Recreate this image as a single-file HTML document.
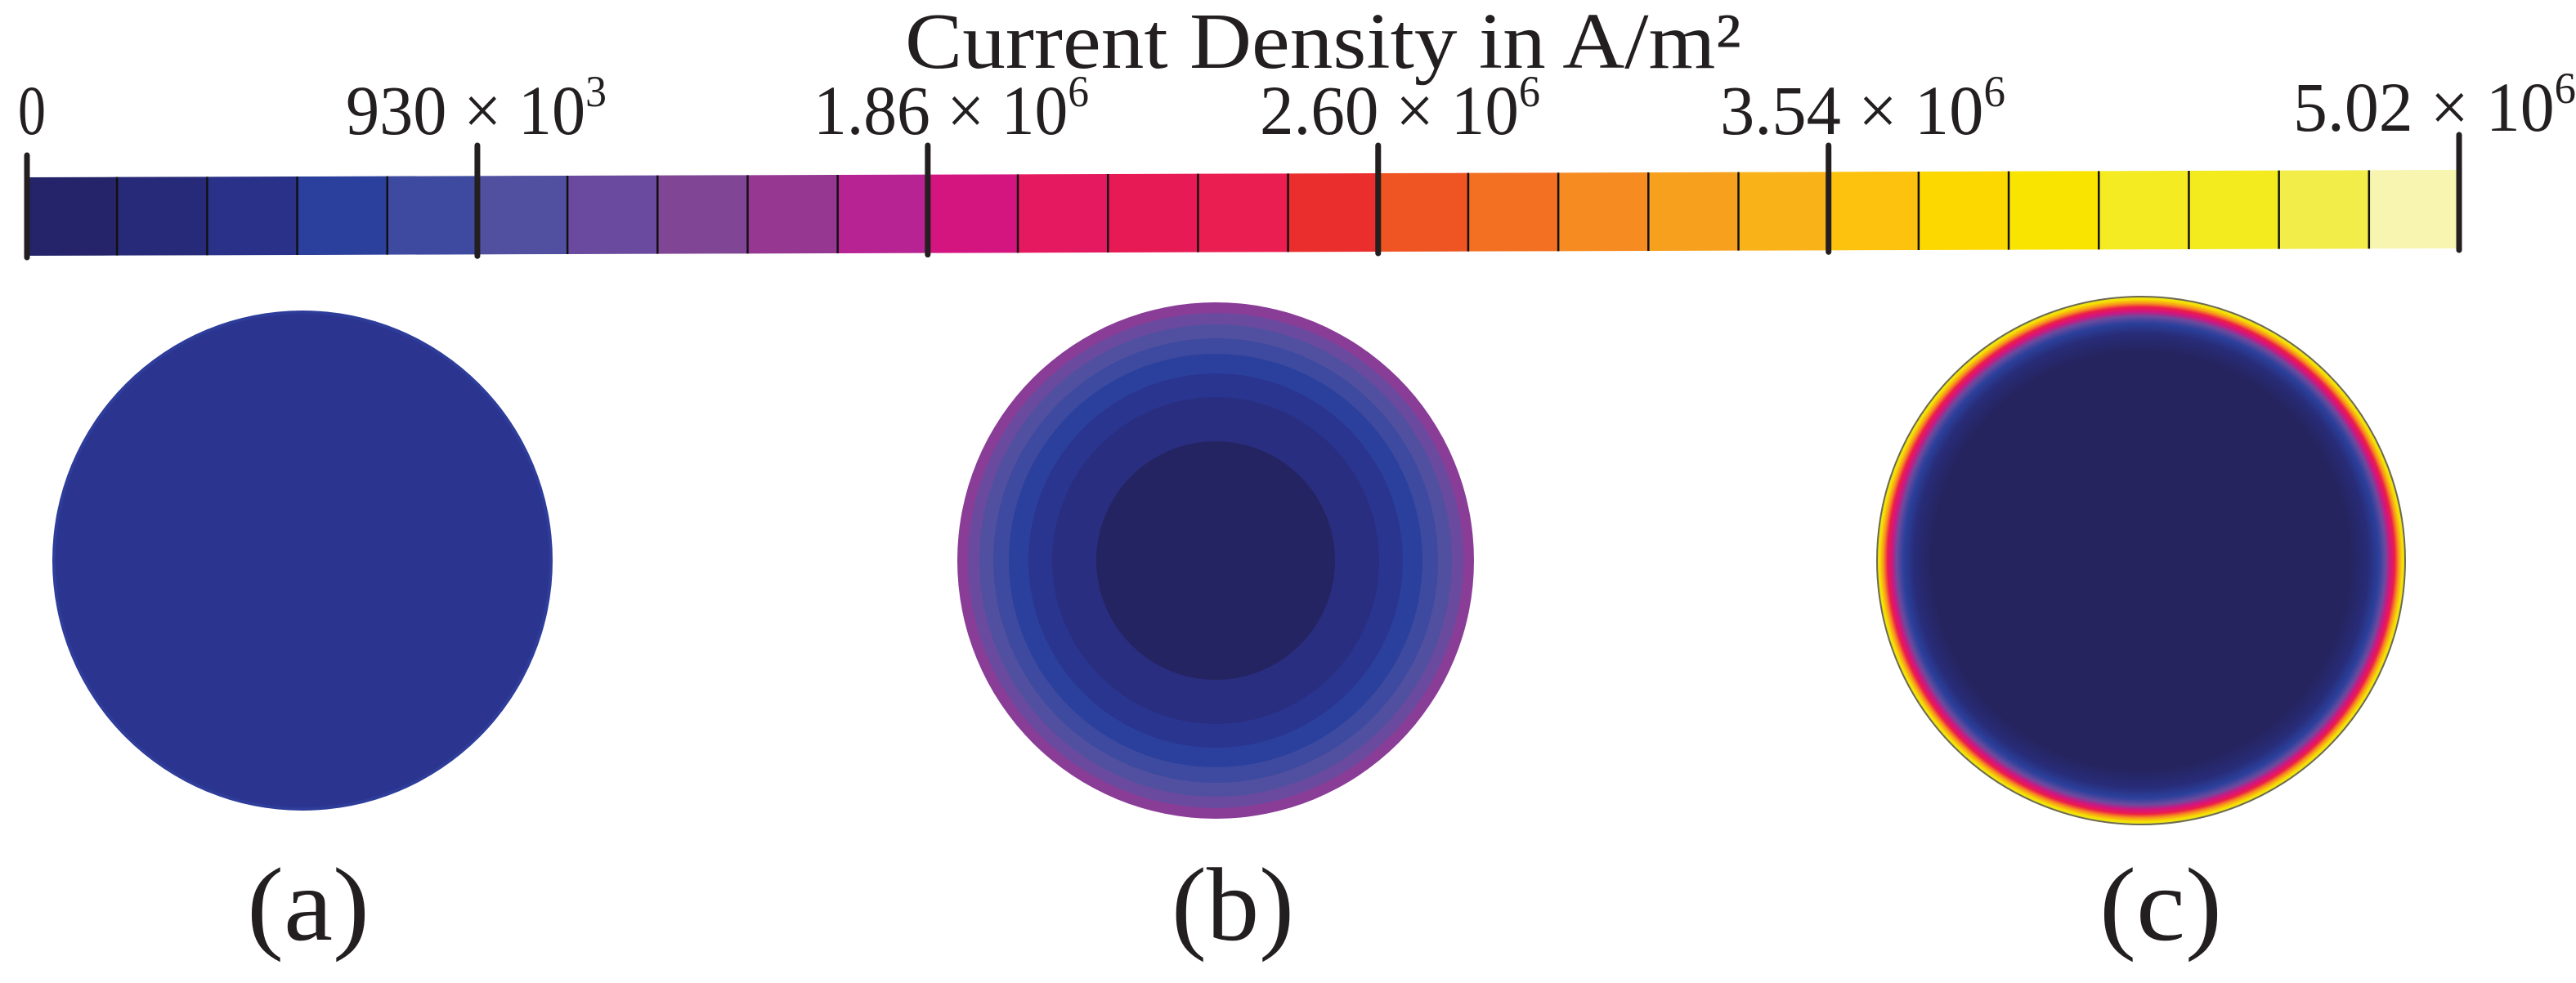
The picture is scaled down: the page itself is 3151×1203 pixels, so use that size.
<!DOCTYPE html>
<html><head><meta charset="utf-8"><style>
html,body{margin:0;padding:0;background:#fff;width:3151px;height:1203px;overflow:hidden}
svg{display:block}
text{font-family:"Liberation Serif",serif;fill:#231f20}
</style></head><body>
<svg id="fig" width="3151" height="1203" viewBox="0 0 3151 1203" xmlns="http://www.w3.org/2000/svg">
<defs>
<radialGradient id="gc" cx="0.5" cy="0.5" r="0.5">
<stop offset="0" stop-color="#25245f"/>
<stop offset="0.79" stop-color="#25245f"/>
<stop offset="0.86" stop-color="#282c78"/>
<stop offset="0.90" stop-color="#2b409c"/>
<stop offset="0.925" stop-color="#6a4a9e"/>
<stop offset="0.945" stop-color="#d4147f"/>
<stop offset="0.96" stop-color="#ec1c4a"/>
<stop offset="0.975" stop-color="#f7941d"/>
<stop offset="0.99" stop-color="#f5e400"/>
<stop offset="1" stop-color="#e8dc30"/>
</radialGradient>
</defs>
<text x="1107" y="83" font-size="98" textLength="1023" lengthAdjust="spacingAndGlyphs">Current Density in A/m²</text>
<g id="cbar"></g>
<g id="ticklabels"></g>

<g>
<circle cx="370" cy="686" r="306" fill="#2e3c9a"/>
<circle cx="370" cy="686" r="302" fill="#2b3590"/>
<text x="377" y="1150" font-size="128" text-anchor="middle" textLength="150" lengthAdjust="spacingAndGlyphs">(a)</text>
</g>
<g id="panelb">
<text x="1508" y="1150" font-size="128" text-anchor="middle" textLength="150" lengthAdjust="spacingAndGlyphs">(b)</text>
</g>
<g>
<circle cx="2619" cy="686" r="323" fill="url(#gc)" stroke="#6b6a50" stroke-width="2"/>
<text x="2643" y="1150" font-size="128" text-anchor="middle" textLength="150" lengthAdjust="spacingAndGlyphs">(c)</text>
</g>
</svg>
<script>
const binColors = ["#25246a","#272a78","#293188","#2b3f9c","#3d4aa0","#5150a0","#6a4a9e","#814596","#963892","#b82394","#d4147f","#e5195f","#e81a55","#ea1e50","#ea2e2e","#ef5423","#f37022","#f58b21","#f7a01e","#fab219","#fdc20e","#fcd800","#f9e400","#f4eb22","#f3eb1e","#f3ed4a","#f8f5b0"];
const majorIdx = [0,5,10,15,20,27];
const tickMant = ["0","930","1.86","2.60","3.54","5.02"];
const tickExp = ["","3","6","6","6","6"];
const ringRadii = [316,303,289,272,253,229,200,146];
const ringColors = ["#8a3d97","#6a4a9e","#5150a0","#3d4aa0","#2b409c","#2a3590","#292e80","#252462"];

const NS="http://www.w3.org/2000/svg";
const x0=33,x1=3008;
const bw=(x1-x0)/binColors.length;
function xAt(i){return x0+i*bw;}
function topAt(x){return 217-(x-x0)/(x1-x0)*9;}
function botAt(x){return 313-(x-x0)/(x1-x0)*9;}
const cb=document.getElementById('cbar');
binColors.forEach((c,i)=>{
  const a=xAt(i),b=xAt(i+1)+0.8;
  const p=document.createElementNS(NS,'polygon');
  
  
  p.setAttribute('points',`${a},${topAt(a)} ${b},${topAt(b)} ${b},${botAt(b)} ${a},${botAt(a)}`);
  p.setAttribute('fill',c);
  cb.appendChild(p);
});
for(let i=1;i<binColors.length;i++){
  if(majorIdx.includes(i))continue;
  const x=xAt(i);
  const l=document.createElementNS(NS,'line');
  
  
  l.setAttribute('x1',x);l.setAttribute('x2',x);
  l.setAttribute('y1',topAt(x));l.setAttribute('y2',botAt(x));
  l.setAttribute('stroke','#111');l.setAttribute('stroke-width','2.5');
  cb.appendChild(l);
}
const tl=document.getElementById('ticklabels');
majorIdx.forEach((idx,k)=>{
  const x=xAt(idx);
  const l=document.createElementNS(NS,'line');
  
  
  l.setAttribute('x1',x);l.setAttribute('x2',x);
  const ytop = k===0?190:(k===majorIdx.length-1?165:178);
  l.setAttribute('y1',ytop);l.setAttribute('y2',botAt(x)+2);
  l.setAttribute('stroke','#231f20');l.setAttribute('stroke-width','7');l.setAttribute('stroke-linecap','round');
  cb.appendChild(l);
  const t=document.createElementNS(NS,'text');
  
  
  t.setAttribute('font-size','86');
  t.setAttribute('y', k===majorIdx.length-1?160:164);
  if(tickExp[k]===""){
    t.setAttribute('x',22);
    t.setAttribute('textLength','34');
    t.setAttribute('lengthAdjust','spacingAndGlyphs');
    t.textContent=tickMant[k];
  } else {
    const w=[0,319,337,343,349,346][k];
    const left=[0,423,995,1541,2104,2805][k];
    t.setAttribute('x',left);
    t.setAttribute('textLength',w);
    t.setAttribute('lengthAdjust','spacingAndGlyphs');
    t.appendChild(document.createTextNode(tickMant[k]+" × 10"));
    const s=document.createElementNS(NS,'tspan');
    s.setAttribute('font-size','54');s.setAttribute('dy','-34');
    s.textContent=tickExp[k];
    t.appendChild(s);
  }
  tl.appendChild(t);
});
const pb=document.getElementById('panelb');
ringRadii.forEach((r,i)=>{
  const c=document.createElementNS(NS,'circle');
  
  
  c.setAttribute('cx',1487);c.setAttribute('cy',686);c.setAttribute('r',r);
  c.setAttribute('fill',ringColors[i]);
  pb.insertBefore(c,pb.lastElementChild);
});
</script>
</body></html>
